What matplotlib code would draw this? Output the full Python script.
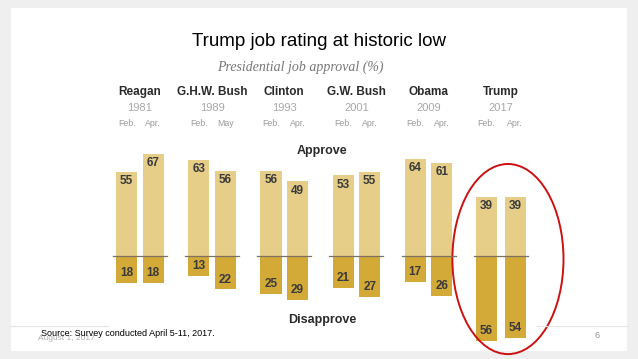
import matplotlib.pyplot as plt
import matplotlib.transforms as mtransforms
from matplotlib.patches import Rectangle, Ellipse

# ---------------------------
# Data
# ---------------------------
presidents = ['Reagan', 'G.H.W. Bush', 'Clinton', 'G.W. Bush', 'Obama', 'Trump']
years = ['1981', '1989', '1993', '2001', '2009', '2017']
first_month = ['Feb.', 'Feb.', 'Feb.', 'Feb.', 'Feb.', 'Feb.']
second_month = ['Apr.', 'May', 'Apr.', 'Apr.', 'Apr.', 'Apr.']
approve_first = [55, 63, 56, 53, 64, 39]
approve_second = [67, 56, 49, 55, 61, 39]
disapprove_first = [18, 13, 25, 21, 17, 56]
disapprove_second = [18, 22, 29, 27, 26, 54]

W, H = 638, 359
light = '#e6cd88'
dark = '#d3a937'


def px(x, y):
    return x / W, 1 - y / H


fig = plt.figure(figsize=(W / 100, H / 100), dpi=100)
fig.patch.set_facecolor('#efefef')
plt.rcParams['font.family'] = ['Liberation Sans', 'DejaVu Sans']

# slide area
fig.add_artist(Rectangle(px(11, 350.5), 616 / W, 342.5 / H, transform=fig.transFigure,
                         facecolor='white', edgecolor='none', zorder=0))
fig.add_artist(plt.Line2D([11 / W, 108 / W], [1 - 326 / H] * 2, color='#e4e4e4', lw=0.8))
fig.add_artist(plt.Line2D([537 / W, 627 / W], [1 - 326 / H] * 2, color='#e4e4e4', lw=0.8))

# ---------------------------
# Bars
# ---------------------------
ax = fig.add_axes([103.9 / W, 9 / H, 432.9 / W, 200 / H])
ax.set_xlim(-0.5, 5.5)
ax.set_ylim(-61.8, 69.7)
ax.axis('off')

off = 0.184
bw = 0.295
trans = mtransforms.blended_transform_factory(ax.transData, fig.transFigure)
for i in range(len(presidents)):
    x1, x2 = i - off, i + off
    if i == 5:
        x1, x2 = i - 0.2, i + 0.2
    ax.bar([x1, x2], [approve_first[i], approve_second[i]], width=bw, color=light)
    ax.bar([x1, x2], [-disapprove_first[i], -disapprove_second[i]], width=bw, color=dark)
    ax.plot([i - 0.375, i + 0.375], [0, 0], color='#7d7260', lw=0.9)
    for x, a, d in [(x1, approve_first[i], disapprove_first[i]),
                    (x2, approve_second[i], disapprove_second[i])]:
        ax.text(x, a - 6, str(a), ha='center', va='center', fontsize=8.5,
                fontweight='bold', color='#3a3a3a')
        ax.text(x, -d + 6.5, str(d), ha='center', va='center', fontsize=8.5,
                fontweight='bold', color='#3a3a3a')

    # headers
    ax.text(i, 1 - 92 / H, presidents[i], transform=trans, ha='center', va='center',
            fontsize=8.5, fontweight='bold', color='#2a2a2a')
    ax.text(i, 1 - 108 / H, years[i], transform=trans, ha='center', va='center',
            fontsize=8, color='#a8a8a8')
    ax.text(x1, 1 - 124 / H, first_month[i], transform=trans, ha='center', va='center',
            fontsize=6.3, color='#9a9a9a')
    ax.text(x2, 1 - 124 / H, second_month[i], transform=trans, ha='center', va='center',
            fontsize=6.3, color='#9a9a9a')

ax.add_patch(Ellipse((5.1, -2), 1.54, 125, facecolor='none', edgecolor='#cc1111',
                     lw=1.4, clip_on=False))

# ---------------------------
# Text
# ---------------------------
fig.text(*px(319, 41), 'Trump job rating at historic low', ha='center', va='center',
         fontsize=13.5, color='black')
fig.text(*px(300, 67), 'Presidential job approval (%)', ha='center', va='center',
         fontsize=10, style='italic', family='Liberation Serif', color='#777777')
fig.text(*px(322, 151), 'Approve', ha='center', va='center', fontsize=9,
         fontweight='bold', color='#2a2a2a')
fig.text(*px(322, 320.5), 'Disapprove', ha='center', va='center', fontsize=9,
         fontweight='bold', color='#2a2a2a')
# footer date sits under the source note, as on the slide
fig.text(*px(38, 338), 'August 1, 2017', ha='left', va='center', fontsize=6,
         color='#b0b0b0')
fig.text(*px(41, 333), 'Source: Survey conducted April 5-11, 2017.', ha='left',
         va='center', fontsize=6.5, color='black')
fig.text(*px(597, 336), '6', ha='center', va='center', fontsize=6.5, color='#909090')

fig.savefig('out.png', dpi=100, facecolor=fig.get_facecolor())
